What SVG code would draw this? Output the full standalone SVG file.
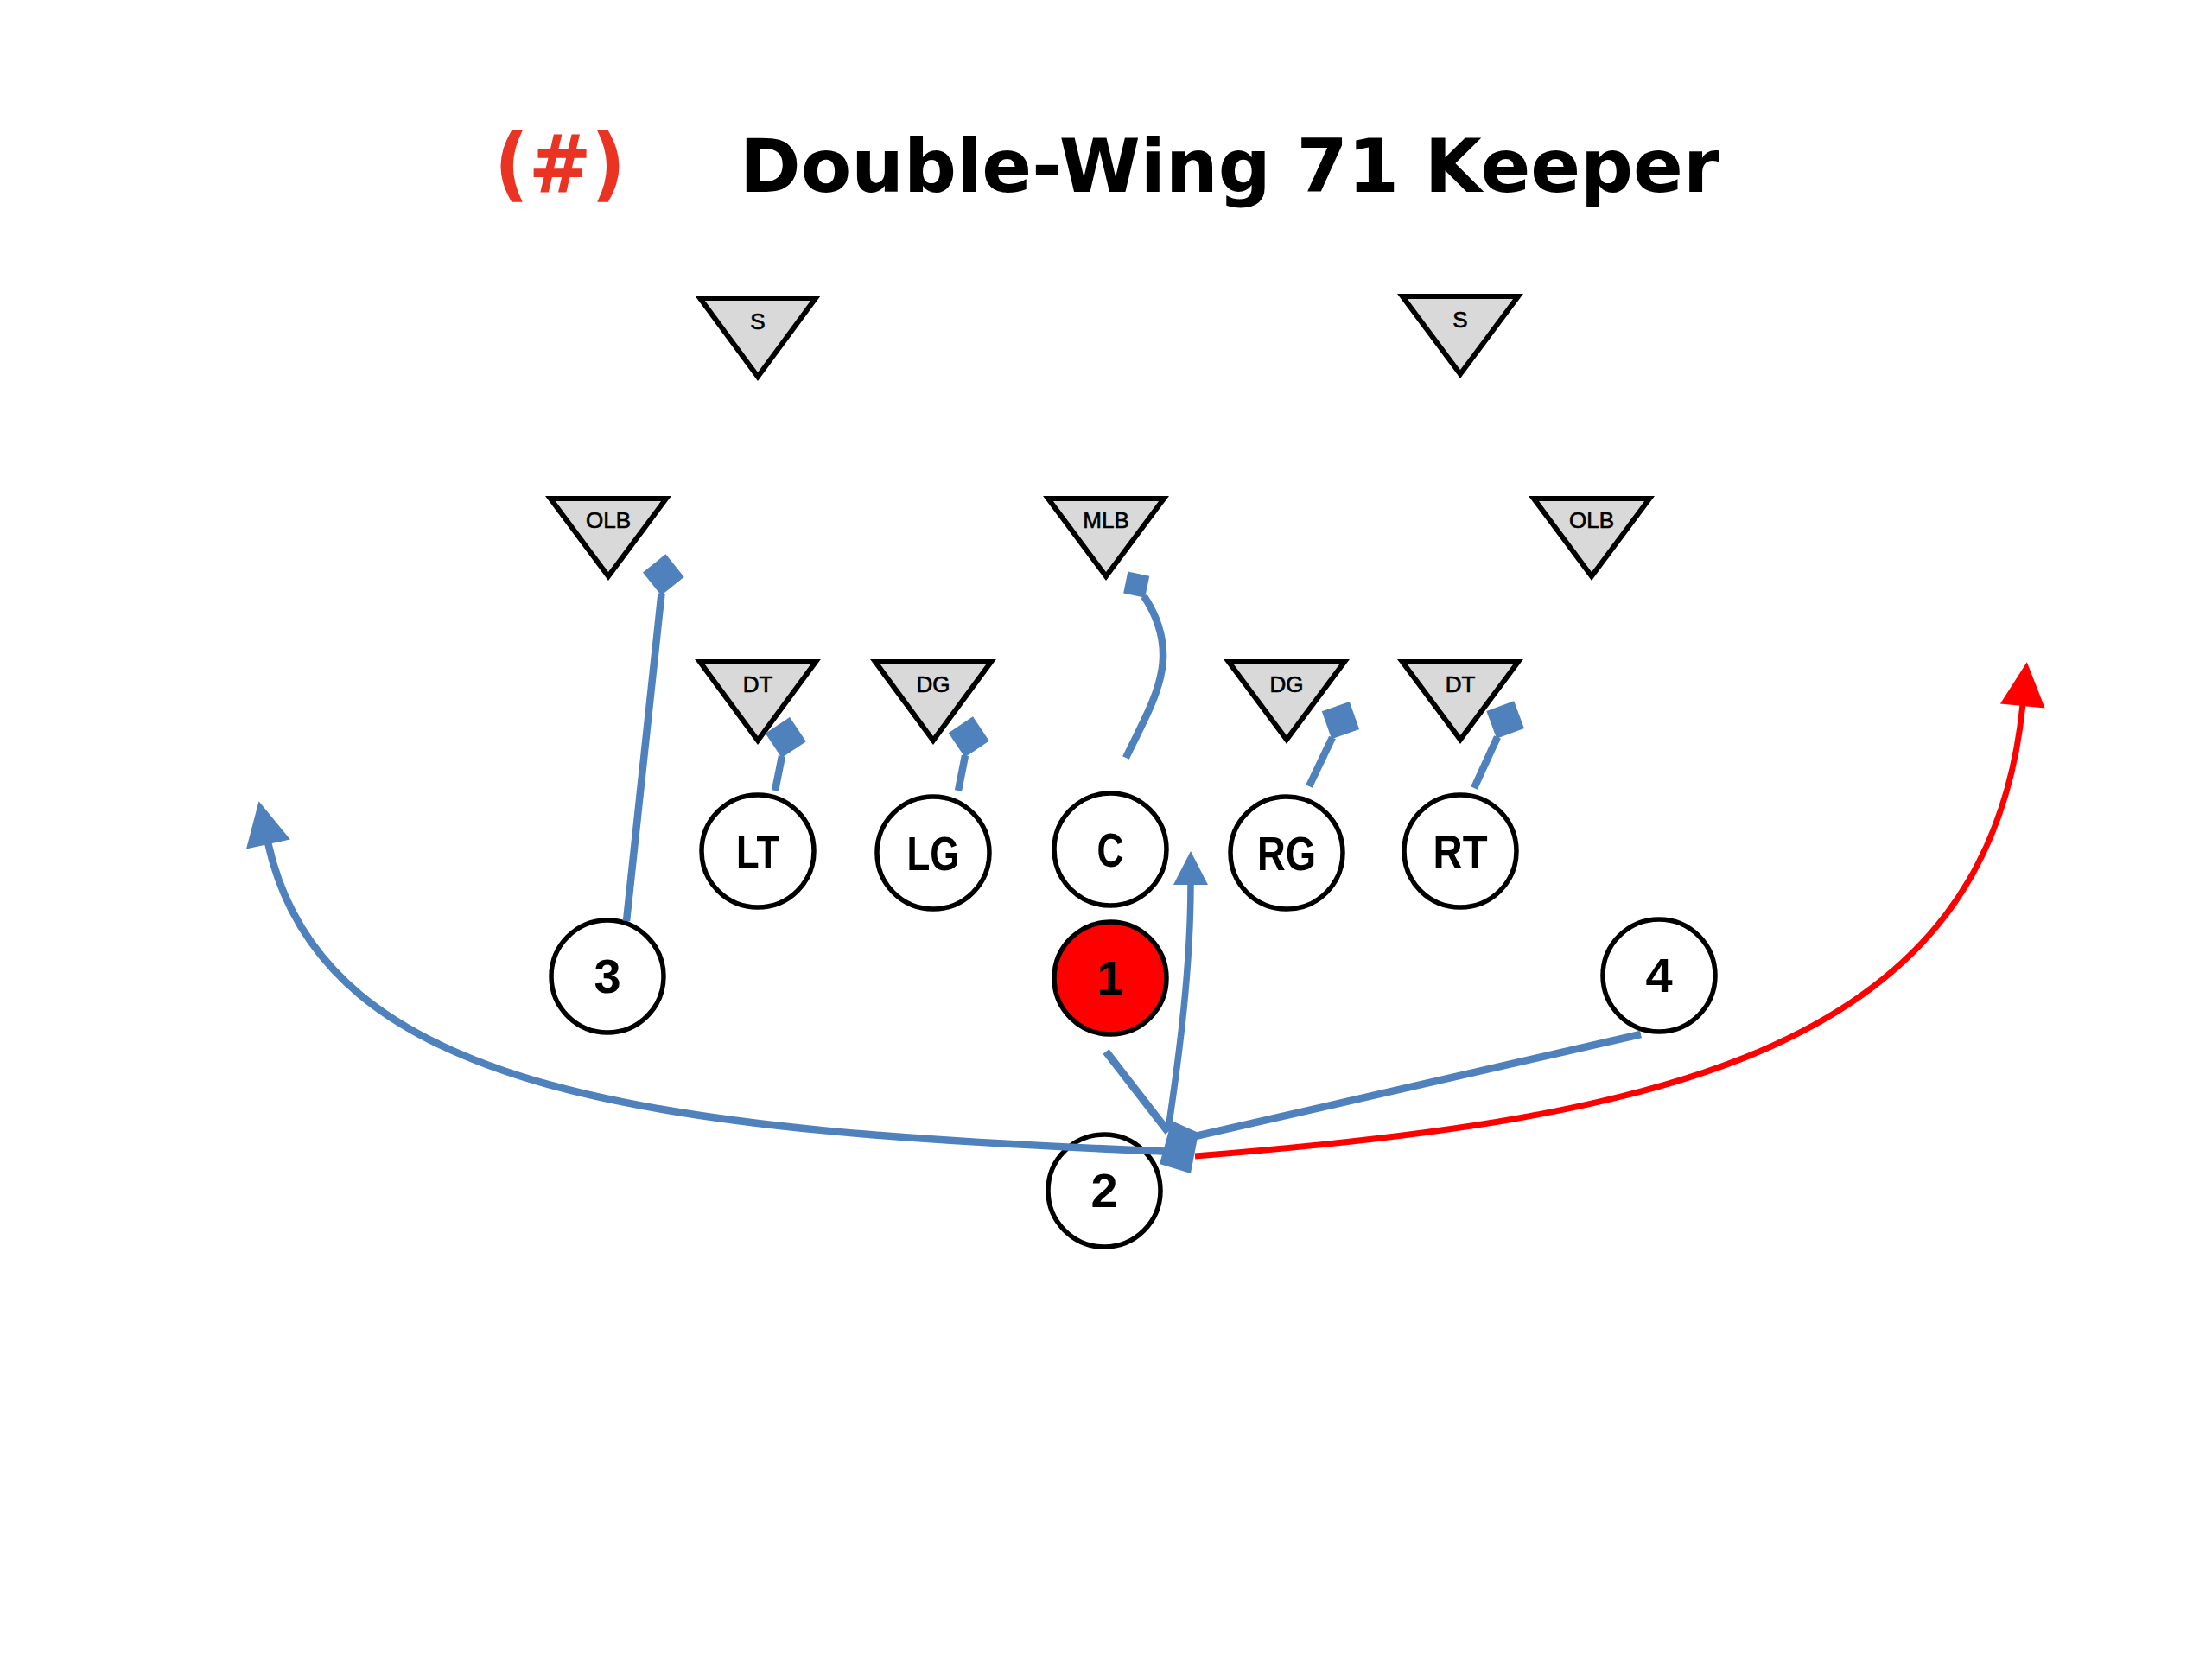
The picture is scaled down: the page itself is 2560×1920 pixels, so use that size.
<svg xmlns="http://www.w3.org/2000/svg" width="2560" height="1920" viewBox="0 0 2560 1920">
<defs>
<style>
.tri{fill:#D9D9D9;stroke:#000;stroke-width:6;stroke-linejoin:miter}
.dl{font-family:"Liberation Sans",Arial,sans-serif;font-size:26px;fill:#000;stroke:#000;stroke-width:0.7;text-anchor:middle}
.pl{fill:#fff;stroke:#000;stroke-width:5.5}
.qb{fill:#FF0000;stroke:#000;stroke-width:5.5}
.ol{font-family:"Liberation Sans",Arial,sans-serif;font-weight:bold;font-size:56px;fill:#000;text-anchor:middle}
.blue{fill:none;stroke:#4F81BD;stroke-width:8.5;stroke-linecap:butt}
.red{fill:none;stroke:#FF0000;stroke-width:7}
.title{font-family:"DejaVu Sans",Verdana,sans-serif;font-weight:bold;font-size:86px}
marker{overflow:visible}
</style>
<marker id="blk" markerUnits="userSpaceOnUse" orient="auto" refX="2" refY="0" markerWidth="50" markerHeight="50">
<path d="M0,0 L24,-24 L48,0 L24,24 Z" fill="#4F81BD"/>
</marker>
<marker id="blkS" markerUnits="userSpaceOnUse" orient="auto" refX="2" refY="0" markerWidth="40" markerHeight="40">
<path d="M0,0 L18,-18 L36,0 L18,18 Z" fill="#4F81BD"/>
</marker>
<marker id="arrB" markerUnits="userSpaceOnUse" orient="auto" refX="2" refY="0" markerWidth="60" markerHeight="60">
<path d="M0,-26 L51,0 L0,26 Z" fill="#4F81BD"/>
</marker>
<marker id="arrBs" markerUnits="userSpaceOnUse" orient="auto" refX="2" refY="0" markerWidth="50" markerHeight="50">
<path d="M0,-20 L39,0 L0,20 Z" fill="#4F81BD"/>
</marker>
<marker id="arrR" markerUnits="userSpaceOnUse" orient="auto" refX="2" refY="0" markerWidth="60" markerHeight="60">
<path d="M0,-26 L51,0 L0,26 Z" fill="#FF0000"/>
</marker>
</defs>
<rect width="2560" height="1920" fill="#fff"/>

<g id="title">
<text class="title" x="572" y="222" fill="#EA3323" style="font-size:92px" textLength="152" lengthAdjust="spacingAndGlyphs">(#)</text>
<text class="title" x="856" y="222" fill="#000" textLength="1134" lengthAdjust="spacingAndGlyphs">Double-Wing 71 Keeper</text>
</g>

<g id="defense">
<g id="S-left"><polygon class="tri" points="810,345 944,345 877,436"/><text class="dl" x="877" y="381">S</text></g>
<g id="S-right"><polygon class="tri" points="1623,343 1757,343 1690,433"/><text class="dl" x="1690" y="379">S</text></g>
<g id="OLB-left"><polygon class="tri" points="637,577 771,577 704,667"/><text class="dl" x="704" y="611">OLB</text></g>
<g id="MLB"><polygon class="tri" points="1213,577 1347,577 1280,667"/><text class="dl" x="1280" y="611">MLB</text></g>
<g id="OLB-right"><polygon class="tri" points="1775,577 1909,577 1842,667"/><text class="dl" x="1842" y="611">OLB</text></g>
<g id="DT-left"><polygon class="tri" points="810,766 944,766 877,857"/><text class="dl" x="877" y="801">DT</text></g>
<g id="DG-left"><polygon class="tri" points="1013,766 1147,766 1080,857"/><text class="dl" x="1080" y="801">DG</text></g>
<g id="DG-right"><polygon class="tri" points="1422,766 1556,766 1489,856"/><text class="dl" x="1489" y="801">DG</text></g>
<g id="DT-right"><polygon class="tri" points="1623,766 1757,766 1690,856"/><text class="dl" x="1690" y="801">DT</text></g>
</g>

<g id="offense">
<g id="LT"><circle class="pl" cx="877" cy="985" r="65"/><text class="ol" x="877" y="1005" textLength="50" lengthAdjust="spacingAndGlyphs">LT</text></g>
<g id="LG"><circle class="pl" cx="1080" cy="987" r="65"/><text class="ol" x="1080" y="1007" textLength="61" lengthAdjust="spacingAndGlyphs">LG</text></g>
<g id="C"><circle class="pl" cx="1285" cy="983" r="65"/><text class="ol" x="1285" y="1003" textLength="31" lengthAdjust="spacingAndGlyphs">C</text></g>
<g id="RG"><circle class="pl" cx="1489" cy="987" r="65"/><text class="ol" x="1489" y="1007" textLength="68" lengthAdjust="spacingAndGlyphs">RG</text></g>
<g id="RT"><circle class="pl" cx="1690" cy="985" r="65"/><text class="ol" x="1690" y="1005" textLength="63" lengthAdjust="spacingAndGlyphs">RT</text></g>
<g id="P3"><circle class="pl" cx="703" cy="1130" r="65"/><text class="ol" x="703" y="1149">3</text></g>
<g id="P1"><circle class="qb" cx="1285" cy="1132" r="65"/><text class="ol" x="1285" y="1151">1</text></g>
<g id="P4"><circle class="pl" cx="1920" cy="1129" r="65"/><text class="ol" x="1920" y="1148">4</text></g>
<g id="P2"><circle class="pl" cx="1278" cy="1378" r="65"/><text class="ol" x="1278" y="1397">2</text></g>
</g>

<g id="connectors">
<path class="blue" d="M725,1066 L765.5,687" marker-end="url(#blk)"/>
<path class="blue" d="M897,915 L905,875" marker-end="url(#blk)"/>
<path class="blue" d="M1109,915 L1117,874.5" marker-end="url(#blk)"/>
<path class="blue" d="M1515,910 L1542,853.5" marker-end="url(#blk)"/>
<path class="blue" d="M1706,912 L1733,853" marker-end="url(#blk)"/>
<path class="blue" d="M1303,877 C1335,810 1370,760 1324,690" marker-end="url(#blkS)"/>
<path class="blue" d="M1360,1333 C760,1309 374,1268 310,975" marker-end="url(#arrB)"/>
<path class="blue" style="stroke-width:7.5" d="M1352,1307 C1365,1220 1378,1120 1378,1022" marker-end="url(#arrBs)"/>
<path class="red" d="M1383,1338 C1933,1294 2302,1213 2341,815" marker-end="url(#arrR)"/>
<path class="blue" style="stroke-width:9" d="M1280,1217 L1352,1310"/>
<path class="blue" d="M1899,1197 L1370,1318"/>
<polygon id="hub" points="1356,1297 1387,1311 1378,1358 1342,1347" fill="#4F81BD"/>
</g>
</svg>
